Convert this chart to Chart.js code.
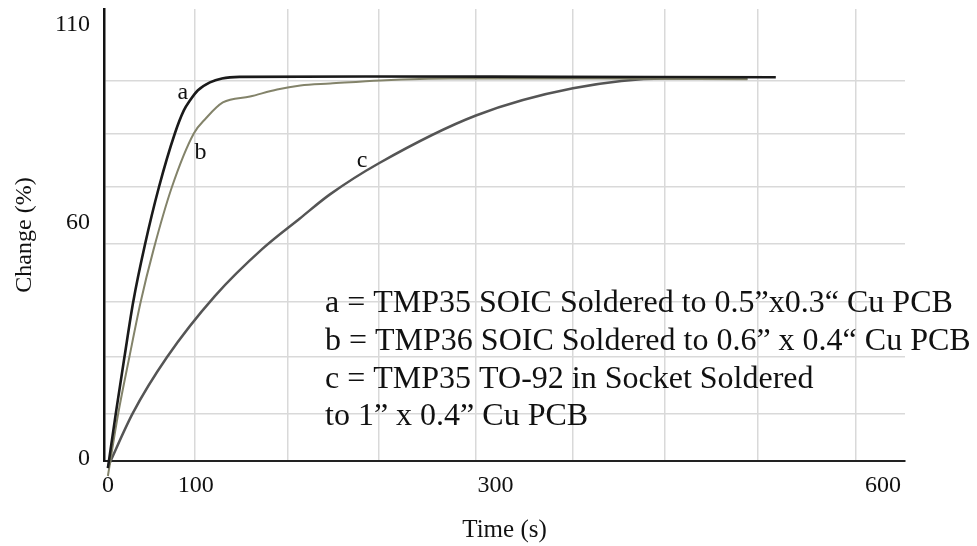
<!DOCTYPE html>
<html>
<head>
<meta charset="utf-8">
<title>Thermal response</title>
<script src="https://cdn.jsdelivr.net/npm/chart.js@4.4.1/dist/chart.umd.min.js"></script>
<style>
  html, body { margin: 0; padding: 0; background: #fff; }
  #wrap { width: 977px; height: 546px; position: relative; }
</style>
</head>
<body>
<div id="wrap"><canvas id="chart"></canvas></div>
<script>
// Response curves: time in seconds, change in percent
const timeA = [0, 6.2, 12.8, 19.7, 28.6, 39.5, 51.9, 58.8, 63.5, 69.7, 79, 88.3, 102, 200, 350, 517];
const changeA = [-2.3, 11.7, 25.8, 40, 54.2, 68.9, 82.6, 88.4, 90.9, 93.5, 95.5, 96.5, 96.9, 97, 96.9, 96.8];

const timeB = [0, 8.1, 16.6, 25.5, 35.2, 49.5, 66.6, 75.9, 89, 110, 131, 149, 172, 211, 265, 381, 495];
const changeB = [-4.3, 11.7, 25.8, 40, 52.9, 68.9, 82.6, 86.4, 90.4, 91.9, 93.7, 94.7, 95.2, 96, 96.5, 96.5, 96.3];

const timeC = [0, 19.4, 45.7, 82.8, 120, 148.6, 171.9, 209.8, 284.9, 360, 431, 495];
const changeC = [-2, 11.7, 25.8, 41.3, 53.4, 61, 67.1, 75, 87.1, 94, 96.5, 96.4];

// axis ticks
const xGridAt = [67, 139, 210, 285, 360, 431, 503, 579];
const xLabelAt = [0, 68, 300, 600];
const xLabelText = ['0', '100', '300', '600'];
const yGridAt = [11.5, 26, 40, 54.5, 69, 82.5, 96];
const yLabelAt = [0, 60, 110];
const yLabelText = ['0', '60', '110'];

const curveNames = ['a', 'b', 'c'];
const noteLines = [
  'a = TMP35 SOIC Soldered to 0.5”x0.3“ Cu PCB',
  'b = TMP36 SOIC Soldered to 0.6” x 0.4“ Cu PCB',
  'c = TMP35 TO-92 in Socket Soldered',
  'to 1” x 0.4” Cu PCB'
];

const SERIF = '"Liberation Serif", "Times New Roman", serif';
Chart.defaults.font.family = SERIF;
Chart.defaults.color = '#111';

const toPoints = (ts, vs) => ts.map((t, i) => ({ x: t, y: vs[i] }));
const tickList = (grid, labels) => [...new Set([...grid, ...labels])].sort((p, q) => p - q);

function curve(label, ts, vs, color, width) {
  return {
    label: label,
    data: toPoints(ts, vs),
    borderColor: color,
    borderWidth: width,
    pointRadius: 0,
    fill: false,
    clip: false,
    cubicInterpolationMode: 'monotone'
  };
}

// curve letters and the key block
const notes = {
  id: 'notes',
  afterDatasetsDraw(chart) {
    const { ctx, chartArea, scales: { x, y } } = chart;
    ctx.save();
    ctx.fillStyle = '#111';
    ctx.textBaseline = 'alphabetic';
    ctx.font = '24px ' + SERIF;
    ctx.textAlign = 'center';
    const spots = [[58, 91.2], [71.6, 76], [196.8, 74]];
    curveNames.forEach((n, i) => {
      ctx.fillText(n, x.getPixelForValue(spots[i][0]), y.getPixelForValue(spots[i][1]));
    });
    ctx.font = '32px ' + SERIF;
    ctx.textAlign = 'left';
    noteLines.forEach((line, i) => {
      ctx.fillText(line, chartArea.left + 221, y.getPixelForValue(37.2) + i * 37.7);
    });
    ctx.restore();
  }
};

const xTicks = tickList(xGridAt, xLabelAt);
const yTicks = tickList(yGridAt, yLabelAt);

new Chart(document.getElementById('chart'), {
  type: 'line',
  data: {
    datasets: [
      curve('a', timeA, changeA, '#1a1a1a', 2.6),
      curve('b', timeB, changeB, '#83836a', 2),
      curve('c', timeC, changeC, '#555555', 2.5)
    ]
  },
  options: {
    responsive: true,
    maintainAspectRatio: false,
    animation: false,
    layout: { padding: { top: 9, right: 72, left: 0, bottom: 0 } },
    plugins: {
      legend: { display: false },
      tooltip: { enabled: false }
    },
    scales: {
      x: {
        type: 'linear',
        min: -3,
        max: 617,
        afterBuildTicks: s => { s.ticks = xTicks.map(v => ({ value: v })); },
        afterFit: s => { s.height = 85; s.paddingLeft = 0; s.paddingRight = 0; },
        grid: {
          color: c => (c.tick && xGridAt.includes(c.tick.value)) ? '#d9d9d9' : 'rgba(0,0,0,0)',
          lineWidth: 1.5,
          drawTicks: false
        },
        border: { color: '#222', width: 2 },
        ticks: {
          autoSkip: false,
          maxRotation: 0,
          padding: 10,
          font: { size: 24 },
          callback: v => { const i = xLabelAt.indexOf(v); return i < 0 ? '' : xLabelText[i]; }
        },
        title: {
          display: true,
          text: 'Time (s)',
          font: { size: 25 },
          padding: { top: 0, bottom: 1 }
        }
      },
      y: {
        type: 'linear',
        min: -0.5,
        max: 114.1,
        afterBuildTicks: s => { s.ticks = yTicks.map(v => ({ value: v })); },
        afterFit: s => { s.width = 104; s.paddingTop = 0; s.paddingBottom = 0; },
        grid: {
          color: c => (c.tick && yGridAt.includes(c.tick.value)) ? '#d9d9d9' : 'rgba(0,0,0,0)',
          lineWidth: 1.5,
          drawTicks: false
        },
        border: { color: '#111', width: 2.5 },
        ticks: {
          autoSkip: false,
          padding: 14,
          font: { size: 24 },
          callback: v => { const i = yLabelAt.indexOf(v); return i < 0 ? '' : yLabelText[i]; }
        },
        title: {
          display: true,
          text: 'Change (%)',
          font: { size: 24 },
          padding: { top: 10, bottom: 0 }
        }
      }
    }
  },
  plugins: [notes]
});
</script>
</body>
</html>
